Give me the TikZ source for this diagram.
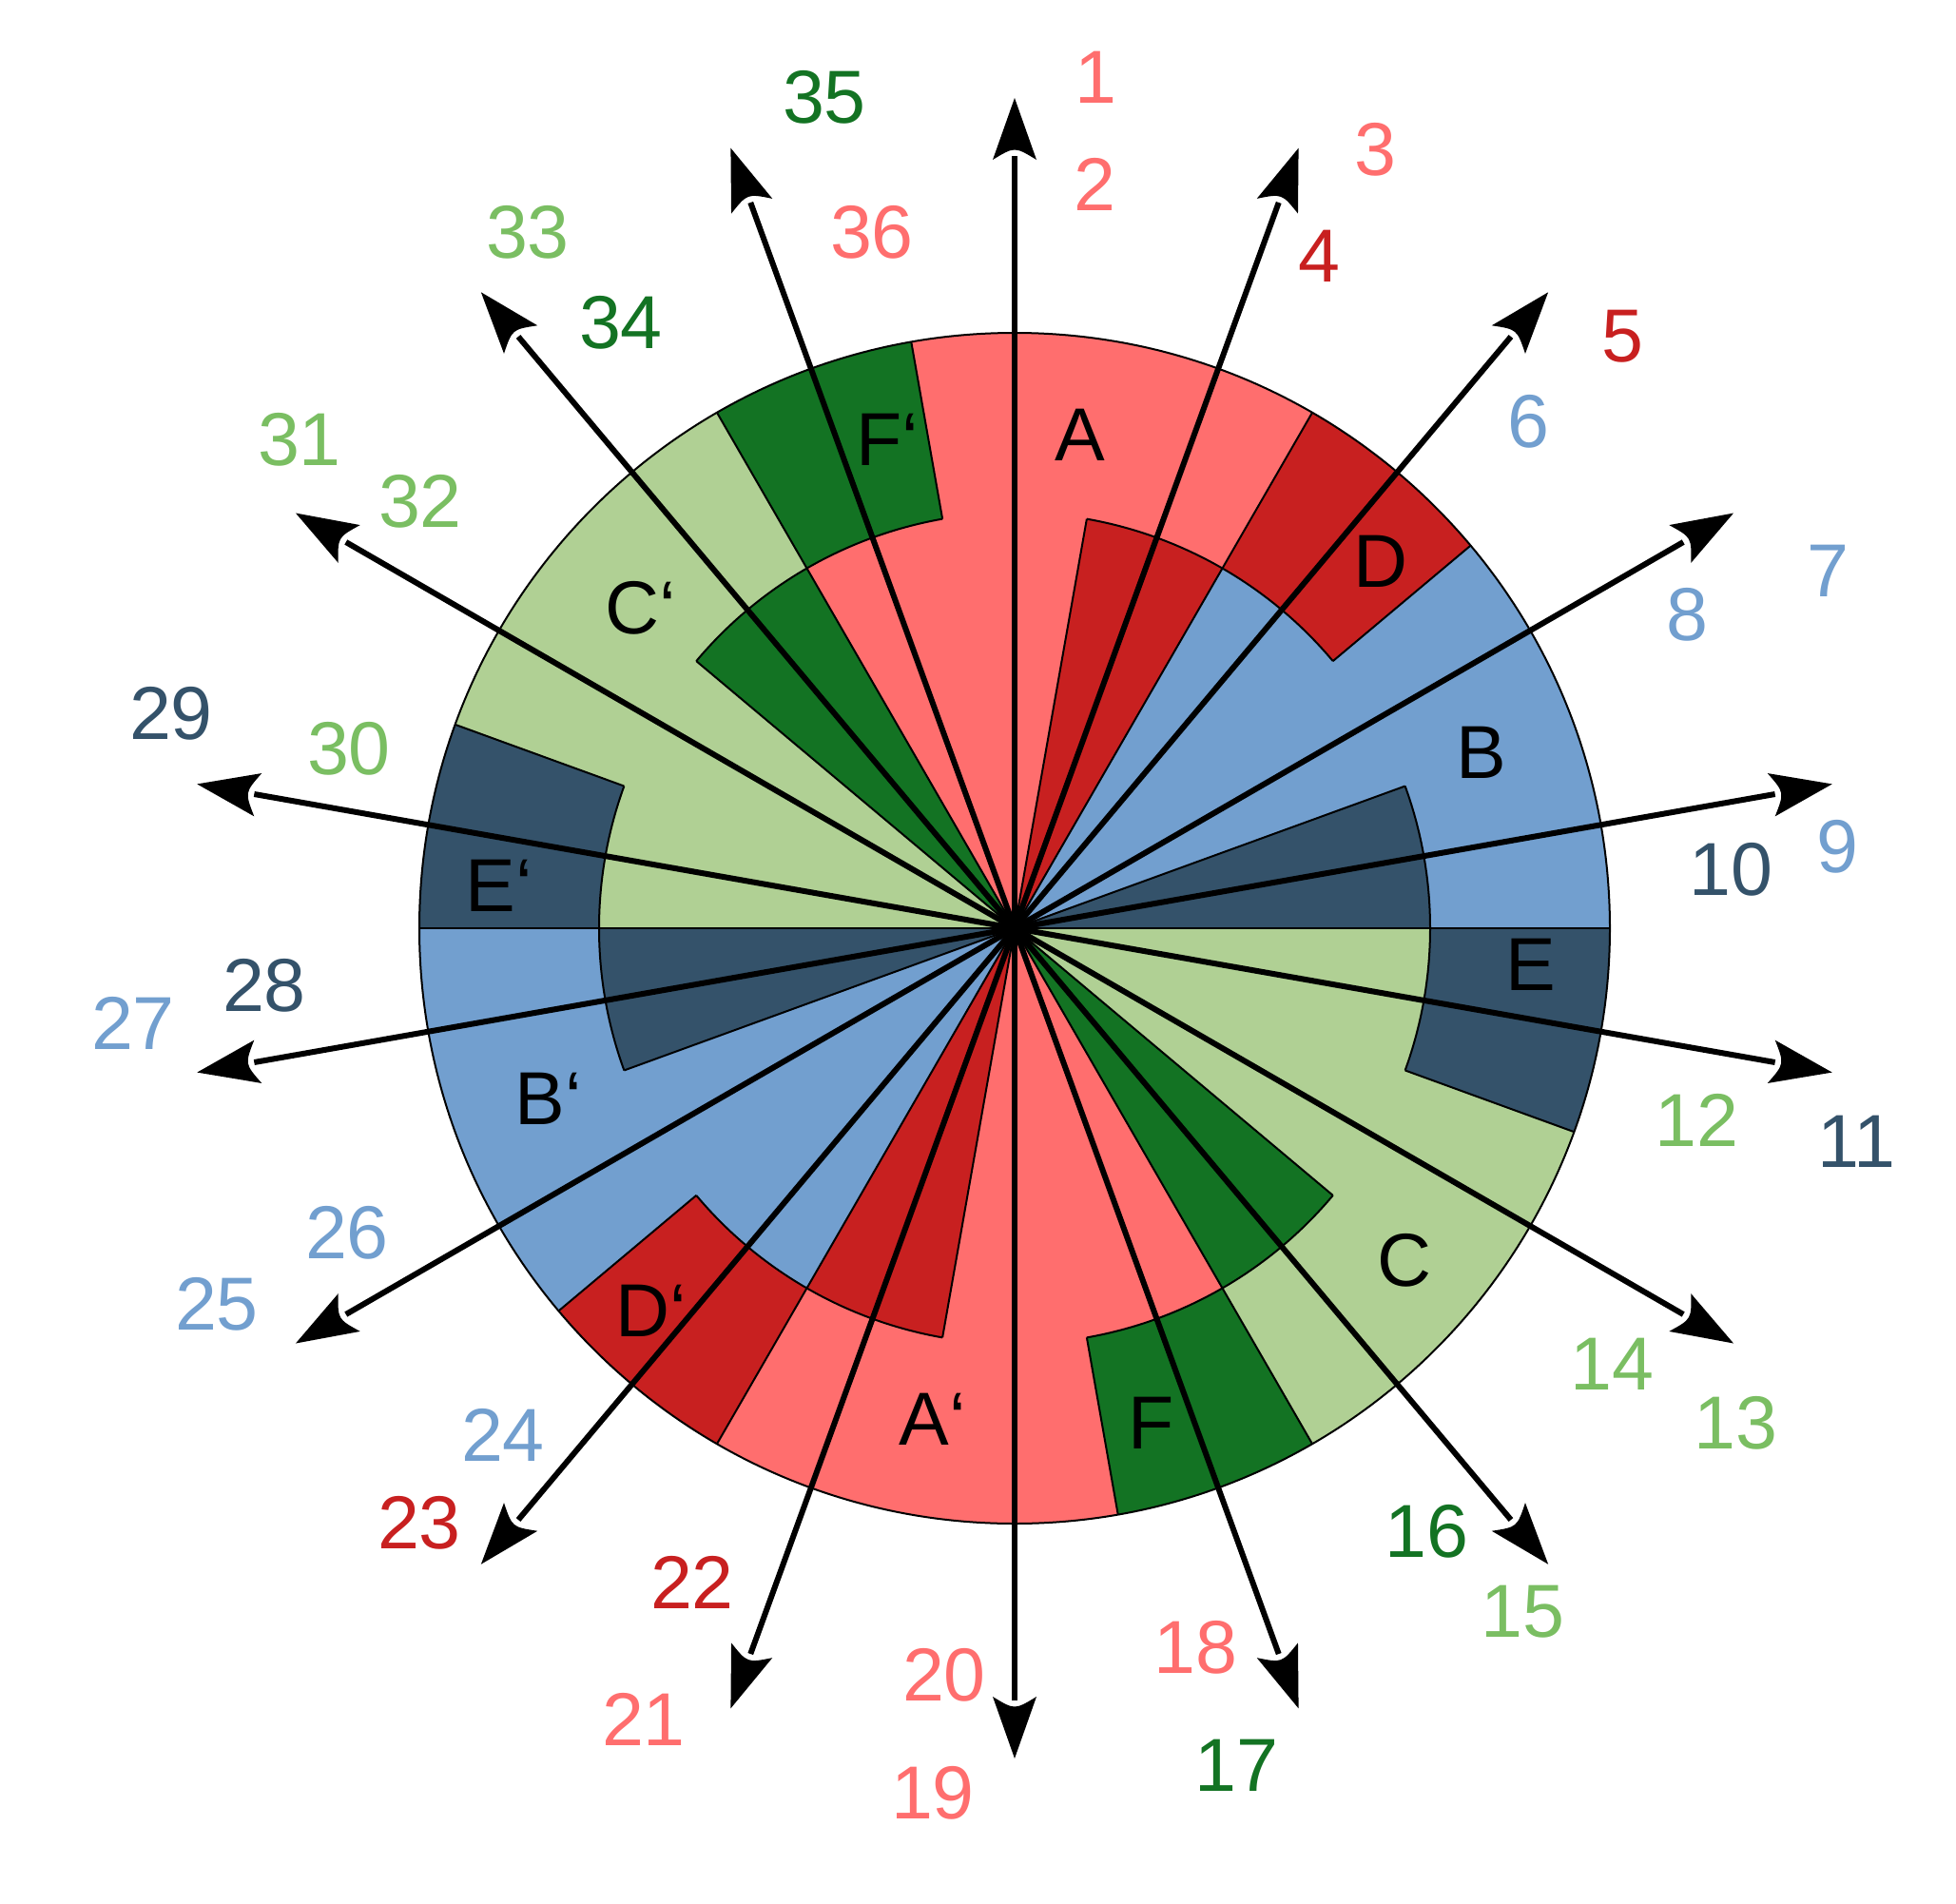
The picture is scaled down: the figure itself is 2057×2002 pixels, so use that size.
\documentclass[tikz,border=0pt]{standalone}
\usepackage{fontspec}
\setmainfont{Liberation Sans}
\definecolor{salmon}{RGB}{255,110,110}
\definecolor{dred}{RGB}{200,32,32}
\definecolor{lblue}{RGB}{114,159,207}
\definecolor{navy}{RGB}{52,82,106}
\definecolor{lgreen}{RGB}{176,208,148}
\definecolor{lgreentxt}{RGB}{122,190,98}
\definecolor{dgreen}{RGB}{19,115,35}
\begin{document}
\begin{tikzpicture}[x=1pt,y=1pt,
  lbl/.style={inner sep=0pt, font=\fontsize{79}{90}\selectfont},
  outline/.style={line width=2pt, black},
  ray/.style={line width=6pt, black},
  arrowhead/.style={fill=black}]
\useasboundingbox (0,0) rectangle (2057,-2002);
\coordinate (O) at (1067,-976);
\begin{scope}[shift={(1067,-976)}]
  % core pieces (slightly larger, covered by ring)
  \foreach \a/\b/\c in {20/60/lblue,60/80/dred,80/120/salmon,120/140/dgreen,140/180/lgreen,180/200/navy,
                        200/240/lblue,240/260/dred,260/300/salmon,300/320/dgreen,320/360/lgreen,0/20/navy}
    \fill[\c] (0,0) -- (\a:445) arc[start angle=\a, end angle=\b, radius=445] -- cycle;
  % ring pieces
  \foreach \a/\b/\c in {0/40/lblue,40/60/dred,60/100/salmon,100/120/dgreen,120/160/lgreen,160/180/navy,
                        180/220/lblue,220/240/dred,240/280/salmon,280/300/dgreen,300/340/lgreen,340/360/navy}
    \fill[\c] (\a:437) -- (\a:626) arc[start angle=\a, end angle=\b, radius=626] -- (\b:437)
      arc[start angle=\b, end angle=\a, radius=437] -- cycle;
  % outlines
  \draw[outline] (0,0) circle[radius=626];
  \foreach \a in {0,40,60,100,120,160,180,220,240,280,300,340}
    \draw[outline] (\a:437) -- (\a:626);
  \foreach \a in {0,20,60,80,120,140,180,200,240,260,300,320}
    \draw[outline] (0,0) -- (\a:437);
  \foreach \a/\b in {40/80,100/140,160/200,220/260,280/320,340/380}
    \draw[outline] (\a:437) arc[start angle=\a, end angle=\b, radius=437];
  % arrow coordinates and heads
  \foreach \k in {0,...,17}{
    \pgfmathsetmacro\ang{90-20*\k}
    \coordinate (t\k) at (\ang:873);
    \coordinate (e\k) at (\ang:812);
    \fill[arrowhead, shift={(\ang:873)}, rotate=\ang]
      (0,0) -- (-65,23) .. controls (-51,0) .. (-65,-23) -- cycle;
  }
\end{scope}
\foreach \k in {0,...,17}
  \draw[ray] (O) -- (e\k);
% sector letters
\node[lbl] (lA) at (1136,-457) {A};
\node[lbl] (lD) at (1452,-590) {D};
\node[lbl] (lB) at (1558,-791) {B};
\node[lbl] (lE) at (1610,-1014) {E};
\node[lbl] (lC) at (1477,-1325) {C};
\node[lbl] (lF) at (1211,-1496) {F};
\node[lbl] (lAp) at (981,-1492) {A‘};
\node[lbl] (lDp) at (685,-1378) {D‘};
\node[lbl] (lBp) at (577,-1155) {B‘};
\node[lbl] (lEp) at (525,-931) {E‘};
\node[lbl] (lCp) at (674,-639) {C‘};
\node[lbl] (lFp) at (933,-462) {F‘};
% numbers
\foreach \n/\x/\y/\c in {
  1/1152/81/salmon, 2/1151/194/salmon, 3/1446/157/salmon, 4/1387/269/dred,
  5/1706/354/dred, 6/1607/443/lblue, 7/1922/600/lblue, 8/1774/646/lblue,
  9/1932/890/lblue, 10/1820/914/navy, 11/1952/1200/navy, 12/1784/1178/lgreentxt,
  13/1825/1496/lgreentxt, 14/1695/1434/lgreentxt, 15/1601/1695/lgreentxt, 16/1500/1610/dgreen,
  17/1300/1856/dgreen, 18/1257/1732/salmon, 19/981/1885/salmon, 20/993/1761/salmon,
  21/677/1808/salmon, 22/728/1664/dred, 23/441/1601/dred, 24/529/1509/lblue,
  25/228/1371/lblue, 26/365/1296/lblue, 27/140/1076/lblue, 28/278/1036/navy,
  29/180/750/navy, 30/367/787/lgreentxt, 31/315/462/lgreentxt, 32/442/527/lgreentxt,
  33/555/244/lgreentxt, 34/653/339/dgreen, 35/867/102/dgreen, 36/917/244/salmon}
  \node[lbl, text=\c] (n\n) at (\x,-\y) {\n};
\end{tikzpicture}
\end{document}
